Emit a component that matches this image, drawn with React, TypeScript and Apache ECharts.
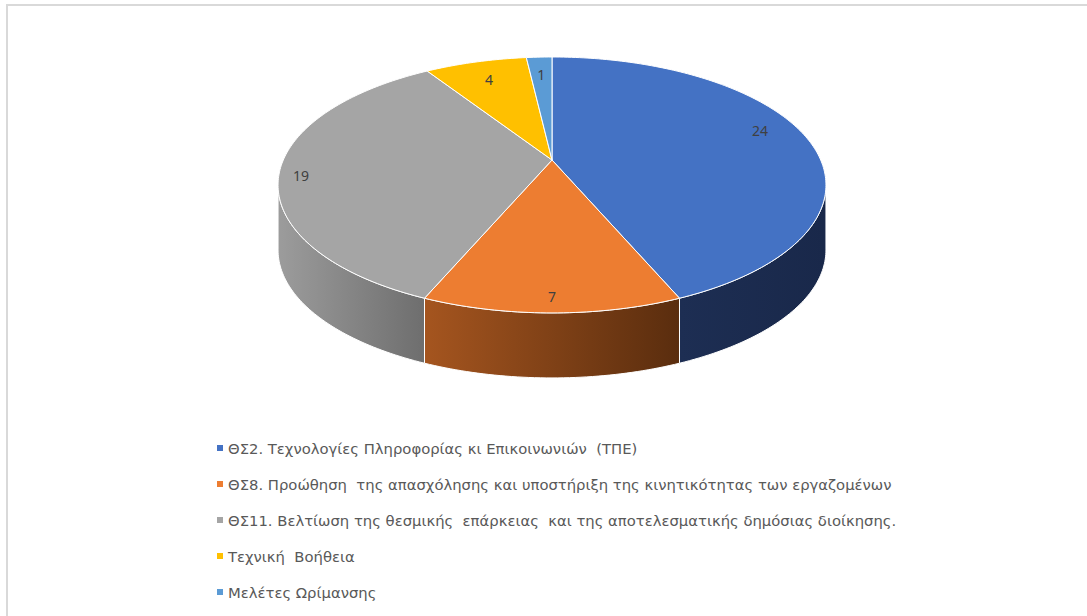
import React, { useEffect, useRef } from "react";
import * as echarts from "echarts";

const CATEGORIES = [
  "ΘΣ2. Τεχνολογίες Πληροφορίας κι Επικοινωνιών  (ΤΠΕ)",
  "ΘΣ8. Προώθηση  της απασχόλησης και υποστήριξη της κινητικότητας των εργαζομένων",
  "ΘΣ11. Βελτίωση της θεσμικής  επάρκειας  και της αποτελεσματικής δημόσιας διοίκησης.",
  "Τεχνική  Βοήθεια",
  "Μελέτες Ωρίμανσης",
];
const VALUES = [24, 7, 19, 4, 1];

const COLORS = ["#4472C4", "#ED7D31", "#A5A5A5", "#FFC000", "#5B9BD5"];
const SIDE_COLORS = [
  ["#1d2e53", "#19284a"],
  ["#a5551f", "#5a2d0e"],
  ["#9c9c9c", "#6e6e6e"],
  ["#a07800", "#7a5c00"],
  ["#3a6fa0", "#2c557c"],
];
const LABEL_R = [0.85, 0.91, 0.92, 0.8, 0.8];
const LABEL_SHIFT = [-0.016, 0, -0.008, 0, 0];

// projection of the tilted disc
const CX = 552;
const CY = 160;
const A = 268.7;
const B = 123.1;
const K = 0.195;
const DEPTH = 65;

function proj(theta: number, r: number): [number, number] {
  const u = r * Math.sin(theta);
  const v = r * Math.cos(theta);
  const d = 1 + K * v;
  return [CX + (A * u) / d, CY - (B * v) / d];
}

function arc(a: number, b: number): [number, number][] {
  const pts: [number, number][] = [];
  const n = Math.max(2, Math.ceil(((b - a) * 180) / Math.PI));
  for (let i = 0; i <= n; i++) pts.push(proj(a + ((b - a) * i) / n, 1));
  return pts;
}

const TOTAL = VALUES.reduce((s, v) => s + v, 0);
const STARTS = VALUES.map((_, i) => VALUES.slice(0, i).reduce((s, v) => s + v, 0));

export default function App() {
  const ref = useRef<HTMLDivElement>(null);
  useEffect(() => {
    if (!ref.current) return;
    const chart = echarts.init(ref.current, undefined, { renderer: "svg" });
    const thL = Math.acos(-K);
    const thR = 2 * Math.PI - thL;

    const series = CATEGORIES.map((name, idx) => ({
      type: "custom",
      name,
      coordinateSystem: "none",
      itemStyle: { color: COLORS[idx] },
      data: [[STARTS[idx], VALUES[idx]]],
      renderItem: (params: any, api: any) => {
        const start = api.value(0) as number;
        const val = api.value(1) as number;
        const a = (start / TOTAL) * 2 * Math.PI;
        const b = ((start + val) / TOTAL) * 2 * Math.PI;
        const children: any[] = [];
        const wa = Math.max(a, thL);
        const wb = Math.min(b, thR);
        if (wb > wa) {
          const top = arc(wa, wb);
          const bottom = top.map(([x, y]) => [x, y + DEPTH] as [number, number]).reverse();
          children.push({
            type: "polygon",
            z2: 0,
            shape: { points: top.concat(bottom) },
            style: {
              fill: new echarts.graphic.LinearGradient(0, 0, 1, 0, [
                { offset: 0, color: SIDE_COLORS[idx][0] },
                { offset: 1, color: SIDE_COLORS[idx][1] },
              ]),
              stroke: "#ffffff",
              lineWidth: 1,
            },
          });
        }
        children.push({
          type: "polygon",
          z2: 10,
          shape: { points: [[CX, CY] as [number, number]].concat(arc(a, b)) },
          style: { fill: COLORS[idx], stroke: "#ffffff", lineWidth: 1 },
        });
        const [lx, ly] = proj((a + b) / 2 + LABEL_SHIFT[idx] * 2 * Math.PI, LABEL_R[idx]);
        children.push({
          type: "text",
          z2: 20,
          style: {
            text: String(val),
            x: lx,
            y: ly,
            fill: "#404040",
            fontSize: 14,
            fontFamily: "Noto Sans",
            align: "center",
            verticalAlign: "middle",
          },
        });
        return { type: "group", children };
      },
    }));

    chart.setOption({
      animation: false,
      backgroundColor: "#ffffff",
      color: COLORS,
      legend: {
        orient: "vertical",
        left: 212,
        top: 435,
        icon: "rect",
        itemWidth: 6,
        itemHeight: 6,
        itemGap: 20,
        data: CATEGORIES,
        textStyle: { color: "#595959", fontSize: 14.8, fontFamily: "DejaVu Sans", lineHeight: 16 },
      },
      graphic: [
        {
          type: "rect",
          shape: { x: 7, y: 5, width: 1200, height: 800 },
          style: { fill: "none", stroke: "#d9d9d9", lineWidth: 2 },
          silent: true,
        },
      ],
      series,
    });
    return () => chart.dispose();
  }, []);
  return (
    <div
      ref={ref}
      style={{ position: "fixed", left: 0, top: 0, width: 1087, height: 616, background: "#fff" }}
    />
  );
}
